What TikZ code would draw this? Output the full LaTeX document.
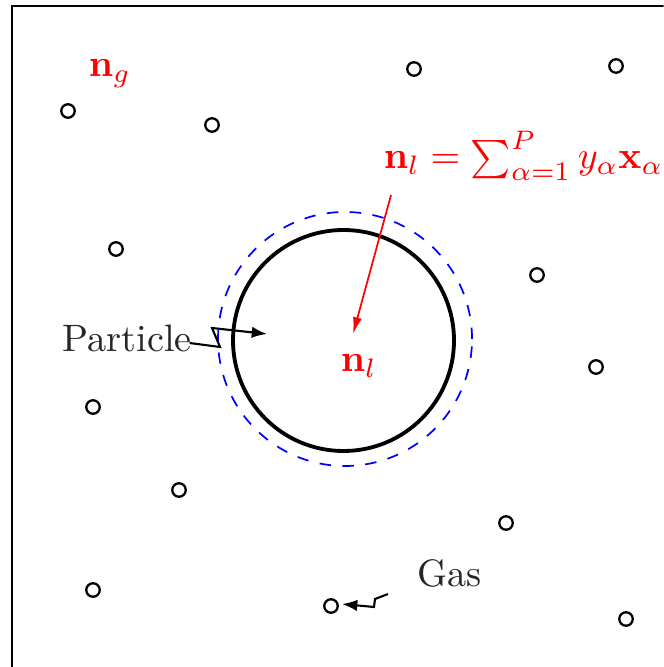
\documentclass[tikz,border=0pt]{standalone}
\usetikzlibrary{arrows.meta}
\begin{document}
\begin{tikzpicture}[x=0.2618pt,y=-0.2618pt,
  gasdot/.style={circle,draw=black,line width=0.6pt,minimum size=13.5*0.2618pt,inner sep=0pt},
  lbl/.style={text=black!85,inner sep=0pt,font=\normalsize},
  redlbl/.style={text=red,inner sep=0pt},
  conn/.style={line width=0.55pt,-{Latex[length=4pt,width=3pt]}},
  redarrow/.style={red,line width=0.45pt,-{Latex[length=4.4pt,width=2.4pt]}}]
\useasboundingbox (0,0) rectangle (663.6,667);
\clip (0,0) rectangle (663.6,667);
\fill[white] (-10,-10) rectangle (680,680);
\draw[line width=0.55pt] (12,720) -- (12,6) -- (720,6);
% big particle
\node[circle,draw=blue,dashed,line width=0.45pt,minimum size=254*0.2618pt,inner sep=0pt] (film) at (345,339) {};
\node[circle,draw=black,line width=1.0pt,minimum size=221*0.2618pt,inner sep=0pt] (part) at (343.5,340.5) {};
% gas molecules
\node[gasdot] (g1) at (68,111) {};
\node[gasdot] (g2) at (212,125) {};
\node[gasdot] (g3) at (414,69) {};
\node[gasdot] (g4) at (616,66) {};
\node[gasdot] (g5) at (116,249) {};
\node[gasdot] (g6) at (537,275) {};
\node[gasdot] (g7) at (93,407) {};
\node[gasdot] (g8) at (596,367) {};
\node[gasdot] (g9) at (179,490) {};
\node[gasdot] (g10) at (506,523) {};
\node[gasdot] (g11) at (93,590) {};
\node[gasdot] (g12) at (331,606) {};
\node[gasdot] (g13) at (626,619) {};
% labels
\node[redlbl,anchor=base west] (ng) at (88,77) {$\mathbf{n}_g$};
\node[redlbl,anchor=base west] (nl) at (340,372) {$\mathbf{n}_l$};
\node[redlbl,anchor=base west] (form) at (383,169) {$\mathbf{n}_l=\sum_{\alpha=1}^{P}y_\alpha\mathbf{x}_\alpha$};
\node[lbl,anchor=base west] (plab) at (62,352) {Particle};
\node[lbl,anchor=base west] (glab) at (417,586) {Gas};
% connectors
\coordinate (ptip) at (267,334);
\coordinate (gtip) at (342,604);
\coordinate (rstart) at (391,195);
\coordinate (rtip) at (353,334);
\draw[conn] (plab.base east) ++(-3,-9) -- (220,347) -- (212,328) -- (ptip);
\draw[conn] (388,594) -- (375,599) -- (374,607) -- (gtip);
\draw[redarrow] (rstart) -- (rtip);
\end{tikzpicture}
\end{document}
